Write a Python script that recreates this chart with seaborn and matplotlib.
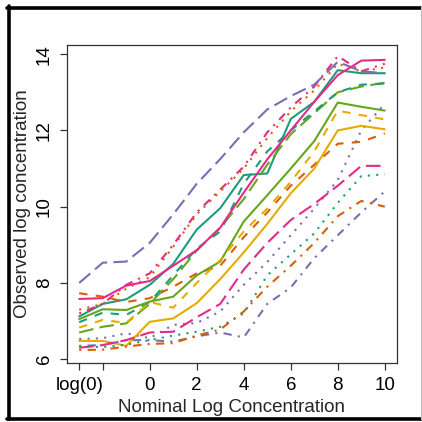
import matplotlib
matplotlib.use("Agg")
import matplotlib.pyplot as plt
from matplotlib.lines import Line2D
import pandas as pd
import seaborn as sns

# nominal log concentration (log(0) drawn at -3)
nominal = [-3, -2, -1, 0, 1, 2, 3, 4, 5, 6, 7, 8, 9, 10]

# observed log concentration, one series per spike-in (matplot order)
s01 = [7.12, 7.45, 7.57, 7.95, 8.50, 9.40, 9.96, 10.83, 10.87, 12.30, 12.75, 13.58, 13.50, 13.50]
s02 = [7.73, 7.64, 7.50, 7.60, 7.90, 8.25, 8.45, 9.20, 9.85, 10.55, 11.10, 11.65, 11.70, 11.92]
s03 = [6.53, 6.55, 6.68, 6.55, 6.90, 6.95, 7.25, 7.95, 8.55, 9.25, 9.95, 10.70, 12.00, 12.70]
s04 = [7.20, 7.45, 7.95, 8.25, 9.00, 9.85, 10.45, 11.05, 11.95, 12.60, 13.15, 13.95, 13.55, 13.75]
s05 = [6.70, 6.85, 6.94, 7.45, 8.10, 8.85, 9.45, 10.20, 11.10, 11.90, 12.45, 13.00, 13.15, 13.25]
s06 = [6.48, 6.48, 6.35, 6.98, 7.07, 7.47, 8.10, 8.80, 9.55, 10.35, 11.00, 12.00, 12.12, 12.03]
s07 = [6.97, 7.22, 7.16, 7.50, 8.20, 8.90, 9.35, 10.60, 11.45, 12.00, 12.50, 13.00, 13.20, 13.23]
s08 = [7.30, 7.45, 7.85, 8.15, 8.95, 9.80, 10.40, 11.00, 11.80, 12.50, 13.05, 13.75, 13.55, 13.65]
s09 = [6.35, 6.37, 6.50, 6.50, 6.46, 6.60, 6.70, 6.57, 7.45, 7.88, 8.65, 9.25, 9.85, 10.40]
s10 = [6.30, 6.37, 6.50, 6.70, 6.72, 7.10, 7.45, 8.35, 9.05, 9.65, 10.07, 10.55, 11.07, 11.07]
s11 = [7.05, 7.31, 7.29, 7.51, 7.64, 8.20, 8.56, 9.61, 10.30, 11.00, 11.72, 12.73, 12.62, 12.52]
s12 = [6.83, 7.03, 6.95, 7.50, 7.35, 8.00, 8.60, 9.35, 9.95, 10.65, 11.45, 12.52, 12.40, 12.29]
s13 = [6.33, 6.32, 6.38, 6.50, 6.62, 6.72, 6.85, 7.20, 8.20, 8.75, 9.30, 10.10, 10.80, 10.85]
s14 = [6.24, 6.25, 6.33, 6.40, 6.42, 6.62, 6.78, 7.25, 7.90, 8.45, 9.05, 9.75, 10.15, 10.00]
s15 = [8.00, 8.53, 8.56, 9.05, 9.80, 10.60, 11.25, 11.95, 12.55, 12.90, 13.20, 13.80, 13.55, 13.50]
s16 = [7.58, 7.60, 7.93, 8.05, 8.45, 8.86, 9.45, 10.37, 11.24, 12.00, 12.75, 13.45, 13.83, 13.85]
SERIES = [s01, s02, s03, s04, s05, s06, s07, s08, s09, s10, s11, s12, s13, s14, s15, s16]

x_ticks = [-3, -2, 0, 2, 4, 6, 8, 10]
x_tick_labels = ["log(0)", "", "0", "2", "4", "6", "8", "10"]
y_ticks = [6, 8, 10, 12, 14]

# Dark2 colours and R line types, cycled like matplot (6 colours, 5 ltys)
DARK2 = ["#1B9E77", "#D95F02", "#7570B3", "#E7298A", "#66A61E", "#E6AB02"]
LTYS = ["", (4, 4), (1, 3), (1, 3, 4, 3), (7, 3)]

names = [f"s{i + 1:02d}" for i in range(len(SERIES))]
df = pd.DataFrame({
    "nominal": nominal * len(SERIES),
    "observed": [v for s in SERIES for v in s],
    "series": [n for n in names for _ in nominal],
})
palette = {n: DARK2[i % 6] for i, n in enumerate(names)}
dashes = {n: LTYS[i % 5] for i, n in enumerate(names)}

sns.set_style("ticks")
plt.rcParams["font.family"] = ["Liberation Sans", "DejaVu Sans"]

fig = plt.figure(figsize=(4.22, 4.22), dpi=100)
ax = fig.add_axes([67 / 422, 59 / 422, 330 / 422, 318 / 422])

sns.lineplot(data=df, x="nominal", y="observed", hue="series", style="series",
             hue_order=names, style_order=names, palette=palette, dashes=dashes,
             estimator=None, sort=False, lw=1.5, legend=False, ax=ax)

ax.set_xlim(-3.52, 10.52)
ax.set_ylim(5.9, 14.24)
ax.set_xticks(x_ticks)
ax.set_xticklabels(x_tick_labels)
ax.set_yticks(y_ticks)
ax.set_yticklabels([str(t) for t in y_ticks], rotation=90, va="center")
ax.tick_params(axis="both", length=5, width=0.9, color="#333333", pad=5,
               labelsize=13.5, labelcolor="black")
for sp in ax.spines.values():
    sp.set_visible(True)
    sp.set_color("#333333")
    sp.set_linewidth(0.9)
ax.set_xlabel("Nominal Log Concentration", fontsize=13.5, labelpad=4)
ax.set_ylabel("Observed log concentration", fontsize=13.5, labelpad=4)

# outer frame of the original panel
fig.add_artist(Line2D([7 / 422, 1], [1 - 7.5 / 422] * 2, transform=fig.transFigure, color="black", lw=2.6))
fig.add_artist(Line2D([9 / 422] * 2, [3 / 422, 1 - 6 / 422], transform=fig.transFigure, color="black", lw=2.6))
fig.add_artist(Line2D([7 / 422, 1], [3 / 422] * 2, transform=fig.transFigure, color="black", lw=2.6))
fig.add_artist(Line2D([420.5 / 422] * 2, [3 / 422, 1 - 6 / 422], transform=fig.transFigure, color="#bbbbbb", lw=0.8))

fig.savefig("out.png", dpi=100)
